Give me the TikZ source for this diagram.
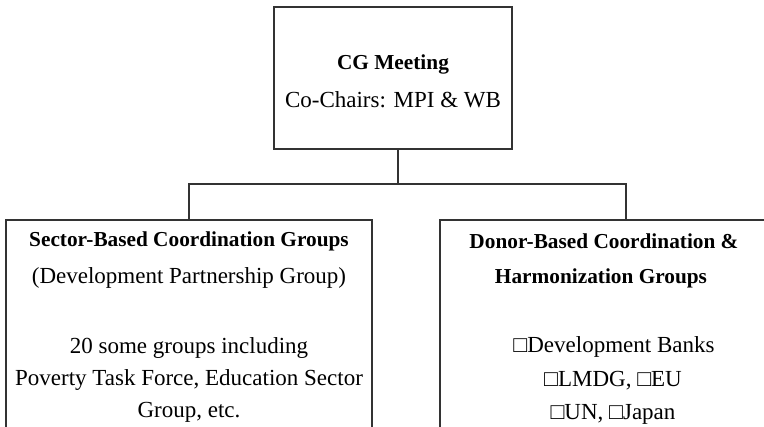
\documentclass[tikz,border=0pt]{standalone}
\usepackage{fontspec}
\setmainfont{Liberation Serif}
\begin{document}
\begin{tikzpicture}[x=1pt,y=-1pt,
  box/.style={draw=black!80, line width=1.3pt, inner sep=0pt, outer sep=0pt, rectangle},
  txt/.style={inner sep=0pt, font=\fontsize{23}{27}\selectfont, text=black},
  btxt/.style={inner sep=0pt, font=\fontsize{21.3}{25}\selectfont\bfseries, text=black},
  link/.style={draw=black!80, line width=1.3pt}]
\useasboundingbox (0,0) rectangle (764,427);
\clip (0,0) rectangle (764,427);
\fill[white] (0,0) rectangle (764,427);
% boxes
\node[box, minimum width=238pt, minimum height=142pt] (top) at (393,78) {};
\node[box, minimum width=366pt, minimum height=260pt, anchor=north] (left) at (189,220) {};
\node[box, minimum width=372pt, minimum height=260pt, anchor=north] (right) at (626,220) {};
% connectors
\coordinate (j) at (398,184);
\draw[link] (top.south -| j) -- (j);
\draw[link] (left.north) |- (j) -| (right.north);
% top box text
\node[btxt] (t1) at (393,64) {CG Meeting};
\node[txt] (t2) at (393,100) {Co-Chairs: MPI \& WB};
% left box text
\node[btxt] (l1) at (189,241) {Sector-Based Coordination Groups};
\node[txt] (l2) at (189,278) {(Development Partnership Group)};
\node[txt] (l3) at (189,348) {20 some groups including};
\node[txt] (l4) at (189,380) {Poverty Task Force, Education Sector};
\node[txt] (l5) at (189,412) {Group, etc.};
% right box text
\node[btxt] (r1) at (604,241) {Donor-Based Coordination \&};
\node[btxt] (r2) at (601,278) {Harmonization Groups};
\node[txt] (r3) at (614,347) {□Development Banks};
\node[txt] (r4) at (613,381) {□LMDG, □EU};
\node[txt] (r5) at (613,414) {□UN, □Japan};
\end{tikzpicture}
\end{document}
